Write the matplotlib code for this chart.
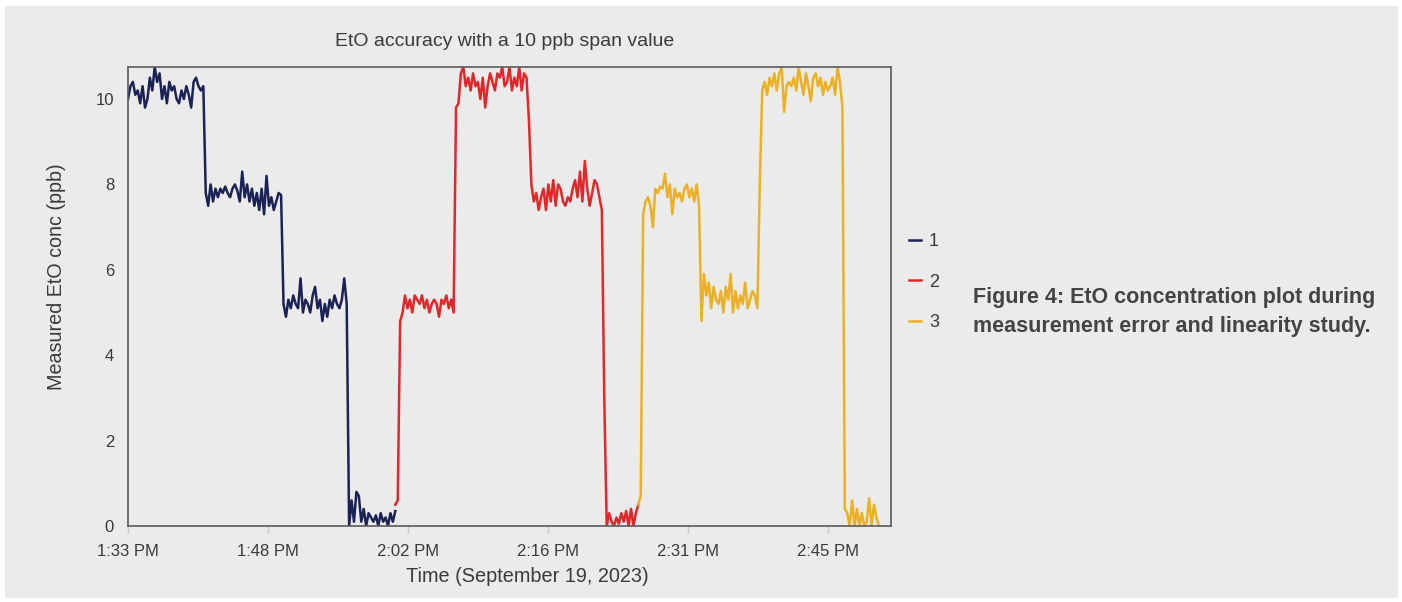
import numpy as np
import matplotlib
matplotlib.use("Agg")
import matplotlib.pyplot as plt
from matplotlib.patches import Rectangle

plt.rcParams['font.family'] = ['Liberation Sans', 'DejaVu Sans']

# sampling step of the traces (minutes)
step = 0.25

# run 1, starts at 1:33 PM (minutes after the first tick)
run1_start = 0.0
run1_values = [
    10.0, 10.3, 10.4, 10.1, 10.2, 9.9, 10.3, 9.8, 10.0, 10.5, 10.2, 10.75, 10.4, 10.6, 10.0, 10.3,
    9.9, 10.4, 10.2, 10.3, 10.0, 9.9, 10.2, 10.0, 10.3, 10.1, 9.8, 10.4, 10.5, 10.3, 10.2, 10.3,
    7.8, 7.5, 8.0, 7.6, 7.9, 7.7, 7.9, 7.8, 7.95, 7.8, 7.7, 7.9, 8.0, 7.85, 7.6, 8.3,
    7.7, 8.0, 7.6, 7.9, 7.5, 7.8, 7.4, 7.9, 7.3, 8.2, 7.5, 7.7, 7.4, 7.6, 7.8, 7.75,
    5.2, 4.9, 5.3, 5.1, 5.4, 5.2, 5.1, 5.8, 5.0, 5.3, 5.2, 5.0, 5.4, 5.6, 5.1, 5.3,
    4.8, 5.2, 4.9, 5.3, 5.1, 5.4, 5.2, 5.1, 5.3, 5.8, 5.2,
    0.0, 0.6, 0.1, 0.8, 0.7, 0.1, 0.4, 0.0, 0.3, 0.2, 0.1, 0.25, 0.0, 0.3, 0.1, 0.2,
    0.0, 0.3, 0.1, 0.35,
]

run2_start = 27.5
run2_values = [
    0.5, 0.6,
    4.8, 5.0, 5.4, 5.1, 5.3, 5.0, 5.4, 5.3, 5.2, 5.4, 5.1, 5.3, 5.0, 5.2, 5.3, 5.2,
    4.9, 5.3, 5.2, 5.4, 5.1, 5.3, 5.0,
    9.8,
    9.9, 10.6, 10.75, 10.3, 10.5, 10.2, 10.6, 10.3, 10.4, 10.0, 10.5, 9.8, 10.3, 10.6,
    10.4, 10.2, 10.6, 10.5, 10.75, 10.3, 10.4, 10.75, 10.2, 10.5, 10.3, 10.75, 10.2, 10.6,
    10.5, 9.5,
    8.0, 7.6, 7.8, 7.4, 7.7, 7.9, 7.4, 8.0, 7.6, 8.1, 7.5, 8.0, 7.9, 7.6, 7.5,
    7.7, 7.6, 7.9, 8.1, 7.7, 8.3, 7.6, 8.55, 7.9, 7.5, 7.8, 8.1, 8.0, 7.7, 7.4,
    3.0,
    0.0, 0.3, 0.1, 0.0, 0.2, 0.05, 0.3, 0.1, 0.35, 0.0, 0.4, 0.0, 0.3, 0.5,
]

run3_start = 52.5
run3_values = [
    0.5, 0.7,
    7.3, 7.6, 7.7, 7.5, 7.0, 7.9, 7.8, 7.95, 7.9, 8.25, 7.7, 8.0,
    7.3, 7.9, 7.7, 7.8, 7.6, 7.9, 8.0, 7.7, 7.9, 7.6, 8.0, 7.5,
    4.8, 5.9, 5.4, 5.7, 5.1, 5.6, 5.3, 5.2, 5.5, 5.0, 5.6, 5.3,
    5.9, 5.0, 5.5, 5.1, 5.4, 5.2, 5.7, 5.1, 5.3, 5.5, 5.4, 5.1,
    8.0,
    10.2, 10.4, 10.1, 10.5, 10.3, 10.6, 10.2, 10.6, 10.75, 9.7, 10.3, 10.4, 10.3, 10.5, 10.2, 10.75, 10.4,
    10.1, 10.6, 10.3, 9.95, 10.5, 10.6, 10.3, 10.5, 10.1, 10.4, 10.2, 10.3, 10.5, 10.1, 10.75, 10.4, 9.8,
    0.4, 0.3, 0.0, 0.6, 0.0, 0.4, 0.0, 0.3, 0.0, 0.1, 0.65, 0.0, 0.5, 0.2, 0.0,
]

run_labels = ['1', '2', '3']
run_colors = ['#1b2256', '#e2272b', '#ecb024']

# ticks every 0.01 day (14.4 min) starting 1:33:36 PM
tick_labels = ['1:33 PM', '1:48 PM', '2:02 PM', '2:16 PM', '2:31 PM', '2:45 PM']
tick_step = 14.4
y_ticks = [0, 2, 4, 6, 8, 10]

bg = '#ebebeb'
txt = '#3a3a3a'

fig = plt.figure(figsize=(14.02, 6.02), dpi=100, facecolor='white')
fig.patches.append(Rectangle((5 / 1402, 4 / 602), 1393 / 1402, 592 / 602,
                             transform=fig.transFigure, facecolor=bg, edgecolor='none', zorder=-10))

ax = fig.add_axes([128 / 1402, 76 / 602, 763 / 1402, 459 / 602])
ax.set_facecolor(bg)

lines = []
for start, vals, lab, col in zip([run1_start, run2_start, run3_start],
                                 [run1_values, run2_values, run3_values],
                                 run_labels, run_colors):
    t = start + step * np.arange(len(vals))
    ln, = ax.plot(t, vals, color=col, lw=1.8, label=lab, solid_joinstyle='round')
    lines.append(ln)

ax.set_xlim(0, 78.5)
ax.set_ylim(0, 10.75)
ax.set_xticks([tick_step * i for i in range(len(tick_labels))])
ax.set_xticklabels(tick_labels)
ax.set_yticks(y_ticks)
ax.tick_params(axis='x', length=5, width=1, color='#c8c8c8', labelsize=12, labelcolor=txt, pad=8)
ax.tick_params(axis='y', length=0, labelsize=12, labelcolor=txt, pad=10)
for s in ax.spines.values():
    s.set_color('#5a5a5a')
    s.set_linewidth(1.2)

fig.text(505 / 1402, 1 - 41 / 602, 'EtO accuracy with a 10 ppb span value', ha='center', va='center',
         fontsize=14, color=txt)
fig.text(527 / 1402, 1 - 576 / 602, 'Time (September 19, 2023)', ha='center', va='center',
         fontsize=14.3, color=txt)
fig.text(57 / 1402, 1 - 277 / 602, 'Measured EtO conc (ppb)', ha='center', va='center',
         rotation=90, fontsize=14.2, color=txt)

fig.legend(handles=lines, loc='upper left', bbox_to_anchor=(893 / 1402, 1 - 217 / 602),
           frameon=False, fontsize=13, labelcolor=txt, handlelength=0.65, handletextpad=0.45,
           labelspacing=1.3)

fig.text(973 / 1402, 1 - 312 / 602, 'Figure 4: EtO concentration plot during\nmeasurement error and linearity study.',
         ha='left', va='center', fontsize=15.5, fontweight='bold', color='#444444', linespacing=1.5)

fig.savefig('out.png', dpi=100, facecolor='white')
